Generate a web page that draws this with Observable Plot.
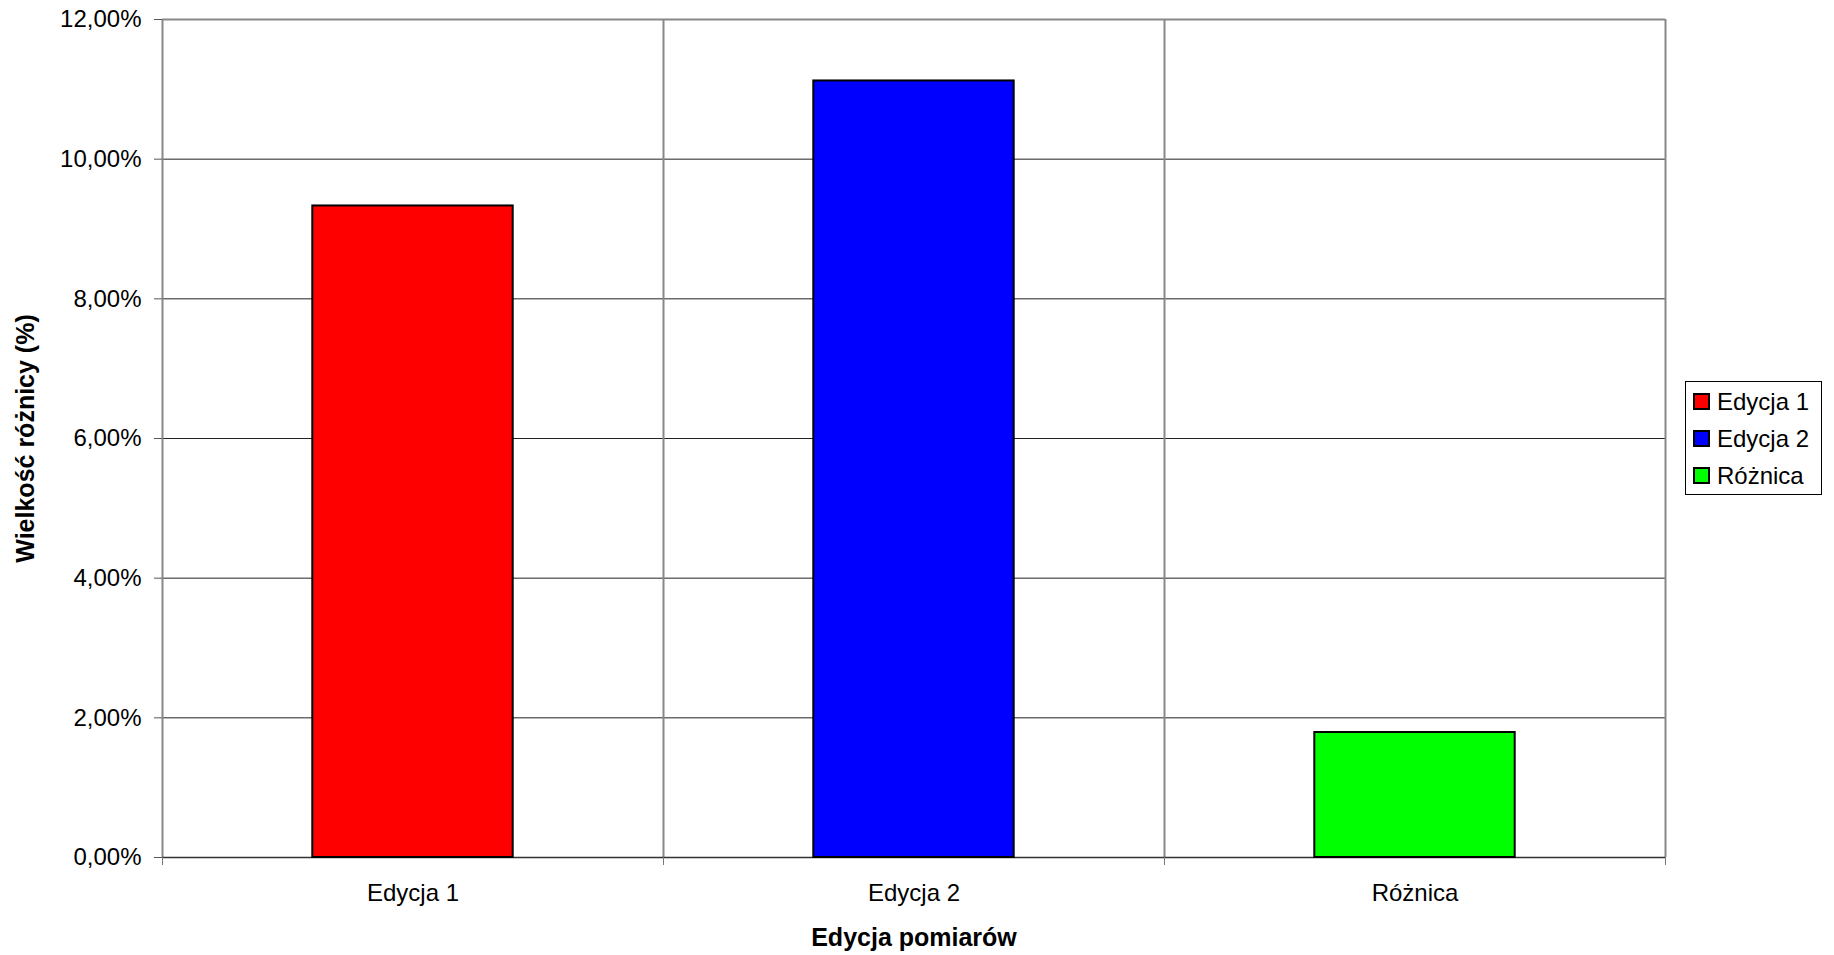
<!DOCTYPE html>
<html>
<head>
<meta charset="utf-8">
<script src="https://cdn.jsdelivr.net/npm/d3@7"></script>
<script src="https://cdn.jsdelivr.net/npm/@observablehq/plot@0.6"></script>
<style>
  body { margin: 0; background: #fff; font-family: "Liberation Sans", Arial, sans-serif; }
  #wrap { position: relative; width: 1834px; height: 955px; }
  #wrap svg g[aria-label="y-axis label"] text,
  #wrap svg g[aria-label="x-axis label"] text { font-weight: bold; font-size: 25px; }
  #legend { position: absolute; left: 1685px; top: 381px; width: 137px; height: 114px;
    box-sizing: border-box; border: 1px solid #000; background: #fff; padding: 1px 0 0 7px; }
  .row { display: flex; align-items: center; height: 37px; font-size: 24px; color: #000; }
  .sw { width: 17px; height: 17px; box-sizing: border-box; border: 2px solid #000; margin-right: 7px; }
</style>
</head>
<body>
<div id="wrap"><div id="legend"></div></div>
<script>
const categories = ["Edycja 1", "Edycja 2", "Różnica"];
const values = [9.33, 11.12, 1.79];
const colors = ["#ff0000", "#0000ff", "#00ff00"];
const yTicks = [0, 2, 4, 6, 8, 10, 12];
const yTitle = "Wielkość różnicy (%)";
const xTitle = "Edycja pomiarów";

const data = categories.map((c, i) => ({category: c, value: values[i], slot: i}));
const boundaries = d3.range(0, categories.length + 1);
const centers = categories.map((c, i) => i + 0.5);

const chart = Plot.plot({
  width: 1834,
  height: 955,
  marginLeft: 162,
  marginRight: 169,
  marginTop: 19,
  marginBottom: 98,
  style: {fontFamily: '"Liberation Sans", Arial, sans-serif', fontSize: "24px", color: "#000", background: "#fff"},
  x: {domain: [0, categories.length], axis: null},
  y: {domain: [0, 12], axis: null},
  color: {domain: categories, range: colors},
  marks: [
    Plot.ruleY(yTicks.filter(t => t > 0 && t < 12), {stroke: "#222", strokeWidth: 1}),
    Plot.ruleX(boundaries, {stroke: "#888", strokeWidth: 2}),
    Plot.ruleY([12], {stroke: "#888", strokeWidth: 2}),
    Plot.ruleY([0], {stroke: "#333", strokeWidth: 1.5}),
    Plot.rectY(data, {
      x1: d => d.slot + 0.3,
      x2: d => d.slot + 0.7,
      y: "value",
      fill: "category",
      stroke: "#000",
      strokeWidth: 2
    }),
    Plot.axisY({
      ticks: yTicks,
      tickSize: 8,
      tickPadding: 13,
      stroke: "#555",
      fontSize: 24,
      tickFormat: d => d.toFixed(2).replace(".", ",") + "%",
      label: yTitle,
      labelAnchor: "center",
      labelArrow: "none",
      labelOffset: 146
    }),
    Plot.axisX({
      ticks: boundaries,
      tickSize: 8,
      stroke: "#777",
      tickFormat: () => "",
      label: null
    }),
    Plot.axisX({
      ticks: centers,
      tickSize: 0,
      tickPadding: 26,
      fontSize: 24,
      tickFormat: d => categories[Math.floor(d)],
      label: xTitle,
      labelAnchor: "center",
      labelArrow: "none",
      labelOffset: 88
    })
  ]
});
const wrap = document.getElementById("wrap");
wrap.insertBefore(chart, wrap.firstChild);

const legend = d3.select("#legend");
categories.forEach((c, i) => {
  const row = legend.append("div").attr("class", "row");
  row.append("div").attr("class", "sw").style("background", colors[i]);
  row.append("span").text(c);
});
</script>
</body>
</html>
